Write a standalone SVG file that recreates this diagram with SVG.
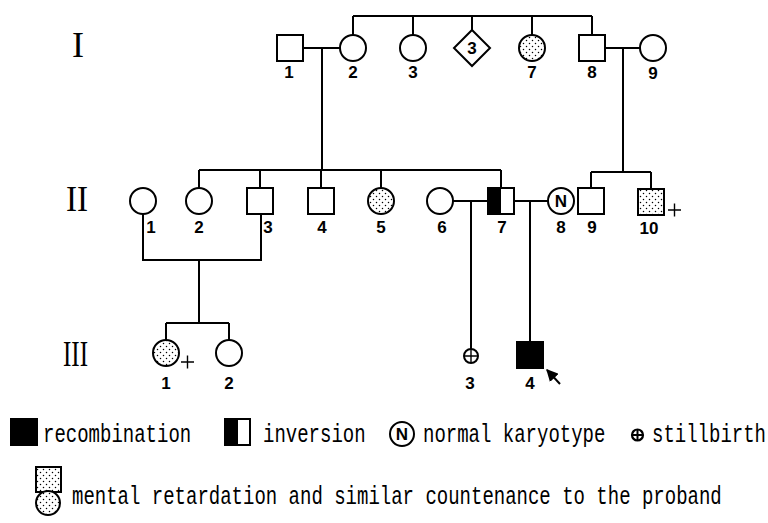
<svg xmlns="http://www.w3.org/2000/svg" width="768" height="523" viewBox="0 0 768 523">
  <defs>
    <pattern id="stipple" width="6" height="6" patternUnits="userSpaceOnUse">
      <rect width="6" height="6" fill="#fff"/>
      <circle cx="1.5" cy="1.5" r="0.75" fill="#000"/>
      <circle cx="4.5" cy="4.5" r="0.75" fill="#000"/>
    </pattern>
    <marker id="arrowhead" viewBox="0 0 10 10" refX="9" refY="5" markerWidth="6" markerHeight="6" orient="auto">
      <path d="M0,0 L10,5 L0,10 Z" fill="#000"/>
    </marker>
  </defs>
  <style>
    .sym { fill: #fff; stroke: #000; stroke-width: 2; }
    .aff { fill: url(#stipple); stroke: #000; stroke-width: 2; }
    .blk { fill: #000; stroke: #000; stroke-width: 2; }
    .line { fill: none; stroke: #000; stroke-width: 2; }
    .thin { fill: none; stroke: #000; stroke-width: 1.4; }
    .num { font-family: "Liberation Sans", Arial, sans-serif; font-weight: bold; font-size: 17px; text-anchor: middle; fill: #000; }
    .gen { font-family: "Liberation Serif", "Times New Roman", serif; font-size: 36px; fill: #000; }
    .leg { font-family: "Liberation Mono", "Courier New", monospace; font-size: 19px; fill: #000; }
  </style>

  <rect width="768" height="523" fill="#fff"/>

  <!-- generation numerals -->
  <g id="generations">
    <text class="gen" x="78" y="57" text-anchor="middle">I</text>
    <text class="gen" x="66" y="211" textLength="22" lengthAdjust="spacingAndGlyphs">II</text>
    <text class="gen" x="63" y="366" textLength="25" lengthAdjust="spacingAndGlyphs">III</text>
  </g>

  <!-- connectors: marriages, descents and sibships -->
  <g id="connectors" class="line">
    <!-- generation I sibship -->
    <path d="M353,16 H592 M353,16 V35 M413,16 V35 M472,16 V30 M532,16 V35 M592,16 V35"/>
    <!-- I-1 x I-2 -->
    <path d="M303,48 H340 M322,48 V170"/>
    <!-- children of I-1 x I-2 -->
    <path d="M199,170 H501 M199,170 V188 M260,170 V188 M321,170 V188 M381,170 V188 M501,170 V188"/>
    <!-- I-8 x I-9 -->
    <path d="M605,48 H640 M623,48 V172"/>
    <path d="M591,172 H651 M591,172 V188 M651,172 V189"/>
    <!-- II-1 x II-3 -->
    <path d="M143,214 V260 H261 V214 M199,260 V323"/>
    <path d="M166,323 H229 M166,323 V340 M229,323 V340"/>
    <!-- II-6 x II-7 -->
    <path d="M453,201 H488 M471,201 V349"/>
    <!-- II-7 x II-8 -->
    <path d="M514,201 H548 M530,201 V342"/>
  </g>

  <!-- generation I -->
  <g id="I-1"><rect class="sym" x="277" y="35" width="26" height="26"/><text class="num" x="289" y="78">1</text></g>
  <g id="I-2"><circle class="sym" cx="353" cy="48" r="13"/><text class="num" x="353" y="78">2</text></g>
  <g id="I-3"><circle class="sym" cx="413" cy="48" r="13"/><text class="num" x="413" y="78">3</text></g>
  <g id="I-sibs3"><path class="sym" d="M472,30 L490,48 L472,66 L454,48 Z"/><text class="num" x="472" y="54">3</text></g>
  <g id="I-7"><circle class="aff" cx="532" cy="48" r="13"/><text class="num" x="532" y="78">7</text></g>
  <g id="I-8"><rect class="sym" x="579" y="35" width="26" height="26"/><text class="num" x="592" y="78">8</text></g>
  <g id="I-9"><circle class="sym" cx="653" cy="48" r="13"/><text class="num" x="653" y="79">9</text></g>

  <!-- generation II -->
  <g id="II-1"><circle class="sym" cx="143" cy="201" r="13"/><text class="num" x="151" y="233">1</text></g>
  <g id="II-2"><circle class="sym" cx="199" cy="201" r="13"/><text class="num" x="199" y="233">2</text></g>
  <g id="II-3"><rect class="sym" x="247" y="188" width="26" height="26"/><text class="num" x="268" y="233">3</text></g>
  <g id="II-4"><rect class="sym" x="308" y="188" width="26" height="26"/><text class="num" x="322" y="233">4</text></g>
  <g id="II-5"><circle class="aff" cx="381" cy="201" r="13"/><text class="num" x="381" y="233">5</text></g>
  <g id="II-6"><circle class="sym" cx="440" cy="201" r="13"/><text class="num" x="442" y="233">6</text></g>
  <g id="II-7">
    <rect class="sym" x="488" y="188" width="26" height="26"/>
    <rect x="488" y="188" width="13" height="26" fill="#000"/>
    <text class="num" x="502" y="233">7</text>
  </g>
  <g id="II-8">
    <circle class="sym" cx="561" cy="201" r="13"/>
    <text class="num" x="561" y="207" font-size="16">N</text>
    <text class="num" x="561" y="233">8</text>
  </g>
  <g id="II-9"><rect class="sym" x="578" y="188" width="26" height="26"/><text class="num" x="592" y="233">9</text></g>
  <g id="II-10">
    <rect class="aff" x="638" y="189" width="26" height="26"/>
    <path class="thin" d="M668,210 H681 M674.5,203.5 V216.5"/>
    <text class="num" x="649" y="234">10</text>
  </g>

  <!-- generation III -->
  <g id="III-1">
    <circle class="aff" cx="166" cy="353" r="13"/>
    <path class="thin" d="M181,362 H194 M187.5,355.5 V368.5"/>
    <text class="num" x="166" y="389">1</text>
  </g>
  <g id="III-2"><circle class="sym" cx="229" cy="353" r="13"/><text class="num" x="229" y="389">2</text></g>
  <g id="III-3">
    <circle class="sym" cx="471" cy="356" r="7"/>
    <path class="thin" d="M464,356 H478 M471,349 V363"/>
    <text class="num" x="470" y="389">3</text>
  </g>
  <g id="III-4">
    <rect class="blk" x="517" y="342" width="26" height="26"/>
    <text class="num" x="530" y="389">4</text>
    <path class="line" d="M560,384 L547,370" marker-end="url(#arrowhead)"/>
  </g>

  <!-- legend -->
  <g id="legend">
    <rect class="blk" x="11" y="419" width="26" height="26"/>
    <text class="leg" transform="translate(43,442) scale(1,1.4)">recombination</text>

    <rect class="sym" x="225" y="419" width="25" height="26"/>
    <rect x="225" y="419" width="13" height="26" fill="#000"/>
    <text class="leg" transform="translate(263,442) scale(1,1.4)">inversion</text>

    <circle class="sym" cx="402" cy="434" r="12"/>
    <text class="num" x="402" y="440" font-size="15">N</text>
    <text class="leg" transform="translate(423,442) scale(1,1.4)">normal karyotype</text>

    <circle cx="637.5" cy="435" r="5.5" fill="none" stroke="#000" stroke-width="2.2"/>
    <path d="M632,435 H643 M637.5,429.5 V440.5" stroke="#000" stroke-width="2"/>
    <text class="leg" transform="translate(652,442) scale(1,1.4)">stillbirth</text>

    <rect class="aff" x="36" y="467" width="25" height="25"/>
    <circle class="aff" cx="48" cy="503" r="12"/>
    <text class="leg" transform="translate(72,504) scale(1,1.4)">mental retardation and similar countenance to the proband</text>
  </g>
</svg>
